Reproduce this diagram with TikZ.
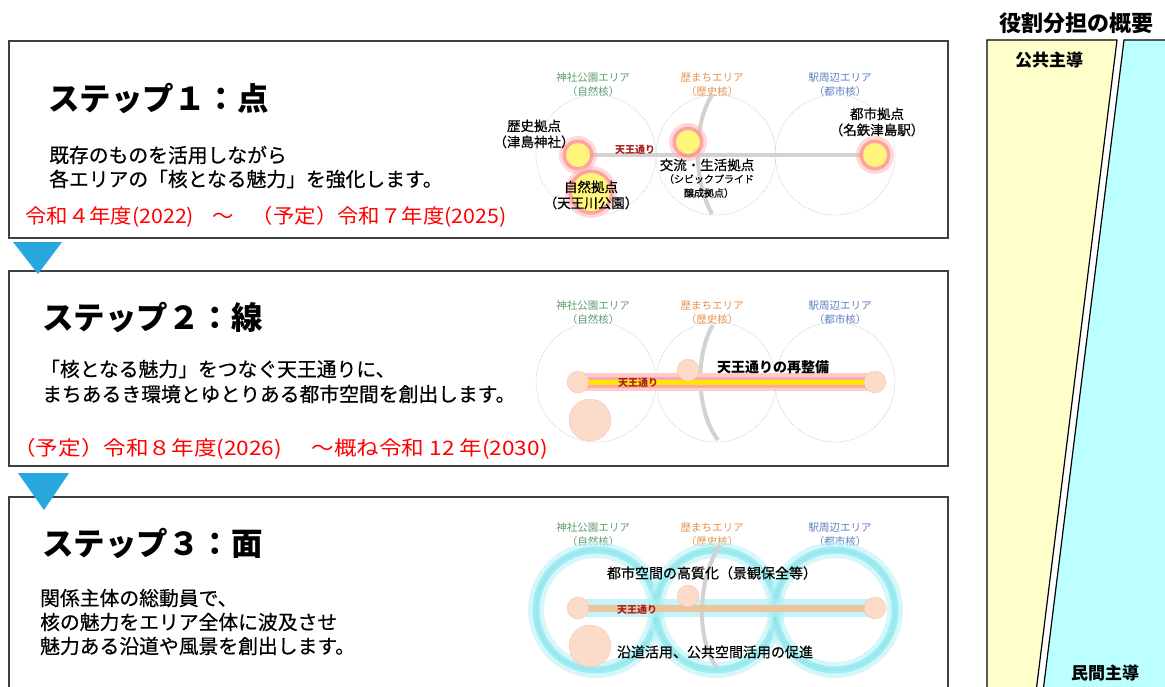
\documentclass[tikz,border=0pt]{standalone}
\usepackage{fontspec}
\setmainfont{Noto Sans CJK JP}
\newfontfamily\medfont{Noto Sans CJK JP}[BoldFont={Noto Sans CJK JP}, BoldFeatures={FakeBold=0.5}]
\usetikzlibrary{positioning}

\definecolor{boxline}{HTML}{404040}
\definecolor{shrineGreen}{HTML}{5E9E6E}
\definecolor{histOrange}{HTML}{E8914A}
\definecolor{stationBlue}{HTML}{5B7FC2}
\definecolor{roadRed}{HTML}{A82020}
\definecolor{pointYellow}{HTML}{FFF57A}
\definecolor{peach}{HTML}{FBDCC8}
\definecolor{glowCyan}{HTML}{8EEAF2}
\definecolor{tanRoad}{HTML}{E9C59E}
\definecolor{arrowBlue}{HTML}{27A7DD}
\definecolor{publicYellow}{HTML}{FFFFCC}
\definecolor{privateCyan}{HTML}{BBFFFF}

\tikzset{
  stepbox/.style={draw=boxline, line width=1.5pt, fill=white},
  steptitle/.style={anchor=west, inner sep=0pt, font=\fontsize{31.5}{33}\selectfont\bfseries},
  bodytext/.style={anchor=west, inner sep=0pt, font=\fontsize{19.8}{21}\selectfont\medfont\bfseries},
  periodtext/.style={anchor=west, inner sep=0pt, text=red, font=\fontsize{20}{22}\selectfont},
  arealabel/.style={inner sep=0pt, align=center, font=\fontsize{10.5}{14}\selectfont},
  spotlabel/.style={inner sep=0pt, align=center, font=\fontsize{13.5}{16}\selectfont\medfont\bfseries},
  roadlabel/.style={inner sep=0pt, text=roadRed, font=\fontsize{10}{12}\selectfont\bfseries},
  areacircle/.style={draw=gray!60, line width=0.5pt, densely dotted},
  sideroad/.style={draw=gray!35, line width=4pt},
  peachpoint/.style={fill=peach, draw=red!40, line width=0.5pt, densely dotted},
  roletitle/.style={inner sep=0pt, font=\fontsize{17}{19}\selectfont\bfseries},
}

\newcommand{\tikzAreaLabels}[2]{
% #1 = y, #2 = name prefix
\node[arealabel, text=shrineGreen] (#2shrine) at (593,#1) {神社公園エリア\\（自然核）};
\node[arealabel, text=histOrange] (#2hist) at (712,#1) {歴まちエリア\\（歴史核）};
\node[arealabel, text=stationBlue] (#2station) at (840,#1) {駅周辺エリア\\（都市核）};
}

\newcommand{\tikzAreaCircles}[1]{
% #1 = y of the centres
\foreach \cx in {596,716,835}
  \draw[areacircle] (\cx,#1) circle[radius=60];
}

\newcommand{\tikzGlowPoint}[3]{
% #1 = x, #2 = y, #3 = radius
\fill[red!30, opacity=0.5] (#1,#2) circle[radius={#3+7}];
\fill[red!45, opacity=0.7] (#1,#2) circle[radius={#3+3.5}];
\fill[pointYellow] (#1,#2) circle[radius=#3];
}

\newcommand{\tikzPeachPoints}[1]{
% #1 = y of the road
\draw[peachpoint] (578,#1) circle[radius=11];
\draw[peachpoint] (688,{#1-12}) circle[radius=11];
\draw[peachpoint] (875,#1) circle[radius=11];
\draw[peachpoint] (590,{#1+38}) circle[radius=21];
}

\begin{document}
\begin{tikzpicture}[x=1pt, y=-1pt]
\useasboundingbox (0,0) rectangle (1165,686);
\clip (0,0) rectangle (1165,686);

% the three step boxes
\draw[stepbox] (9,41) rectangle (948,238);
\draw[stepbox] (9,271) rectangle (948,466);
\draw[stepbox] (9,497) rectangle (948,720);

% arrows between the boxes
\fill[arrowBlue] (13,242) -- (62,242) -- (38,274) -- cycle;
\fill[arrowBlue] (18,473) -- (69,473) -- (44,510) -- cycle;

% ---- step 1 ----
\node[steptitle] (title1) at (48,98) {ステップ１：点};
\node[bodytext] (body1a) at (49,155) {既存のものを活用しながら};
\node[bodytext] (body1b) at (49,179) {各エリアの「核となる魅力」を強化します。};
\node[periodtext] (period1) at (25,217) {\scalebox{1.07}[1]{令和４年度(2022)\hspace{17pt}～\hspace{17pt}（予定）令和７年度(2025)}};

\tikzAreaLabels{85}{a}
\tikzAreaCircles{155}
\draw[sideroad] (578,155) -- (875,155);
\draw[sideroad] (712,95) .. controls (693,125) and (693,180) .. (712,214);
\tikzGlowPoint{578}{155}{12}
\tikzGlowPoint{591}{192}{19}
\tikzGlowPoint{688}{142}{12}
\tikzGlowPoint{875}{155}{12}
\node[spotlabel] (histspot) at (534,134) {歴史拠点\\（津島神社）};
\node[spotlabel] (naturespot) at (591,195) {自然拠点\\（天王川公園）};
\node[spotlabel] (civicspot) at (707,165) {交流・生活拠点};
\node[arealabel, font=\fontsize{10}{14}\selectfont\medfont\bfseries] (civicnote) at (709,186) {（シビックプライド\\醸成拠点）};
\node[spotlabel] (cityspot) at (877,122) {都市拠点\\（名鉄津島駅）};
\node[roadlabel] (road1) at (635,150) {天王通り};

% ---- step 2 ----
\node[steptitle] (title2) at (42,317) {ステップ２：線};
\node[bodytext] (body2a) at (40,369) {「核となる魅力」をつなぐ天王通りに、};
\node[bodytext] (body2b) at (42,394) {まちあるき環境とゆとりある都市空間を創出します。};
\node[periodtext] (period2) at (13,449) {\scalebox{1.13}[1]{（予定）令和８年度(2026)\hspace{26pt}～概ね令和 12 年(2030)}};

\tikzAreaLabels{313}{b}
\tikzAreaCircles{382}
\draw[sideroad] (713,325) .. controls (696,352) and (695,410) .. (718,440);
% the street, glowing
\draw[red!20, line width=18pt] (578,382) -- (875,382);
\draw[red!35, line width=11pt] (578,382) -- (875,382);
\draw[yellow!90!orange, line width=5pt] (578,382) -- (875,382);
\tikzPeachPoints{382}
\node[roadlabel] (road2) at (638,383) {天王通り};
\node[spotlabel, font=\fontsize{14}{16}\selectfont\bfseries] (rework) at (773,367) {天王通りの再整備};

% ---- step 3 ----
\node[steptitle] (title3) at (42,543) {ステップ３：面};
\node[bodytext] (body3a) at (40,598) {関係主体の総動員で、};
\node[bodytext] (body3b) at (40,622) {核の魅力をエリア全体に波及させ};
\node[bodytext] (body3c) at (40,646) {魅力ある沿道や風景を創出します。};

\tikzAreaLabels{535}{c}
\foreach \cx in {596,716,835} {
  \draw[glowCyan!60, line width=16pt, opacity=0.6] (\cx,610) circle[radius=60];
  \draw[glowCyan, line width=7pt, opacity=0.8] (\cx,610) circle[radius=60];
}
\tikzAreaCircles{610}
\draw[glowCyan!70, line width=18pt, opacity=0.7] (578,608) -- (875,608);
\draw[sideroad] (720,545) .. controls (697,580) and (696,640) .. (717,668);
\draw[tanRoad, line width=7pt] (578,608) -- (875,608);
\tikzPeachPoints{608}
\node[roadlabel] (road3) at (637,610) {天王通り};
\node[spotlabel, font=\fontsize{14}{16}\selectfont\medfont\bfseries] (quality) at (712,573) {都市空間の高質化（景観保全等）};
\node[spotlabel, font=\fontsize{14}{16}\selectfont\medfont\bfseries] (roadside) at (715,652) {沿道活用、公共空間活用の促進};

% ---- sharing of roles ----
\node[roletitle, font=\fontsize{22}{24}\selectfont\bfseries] (roles) at (1076,23) {役割分担の概要};
\fill[publicYellow] (987,40) -- (1117,40) -- (1035,700) -- (987,700) -- cycle;
\draw[line width=1.2pt] (987,700) -- (987,40) -- (1117,40) -- (1035,700);
\fill[privateCyan] (1124,40) -- (1170,40) -- (1170,700) -- (1042,700) -- cycle;
\draw[line width=1.2pt] (1170,40) -- (1124,40) -- (1042,700);
\node[roletitle] (public) at (1049,60) {公共主導};
\node[roletitle] (private) at (1105,673) {民間主導};

\end{tikzpicture}
\end{document}
